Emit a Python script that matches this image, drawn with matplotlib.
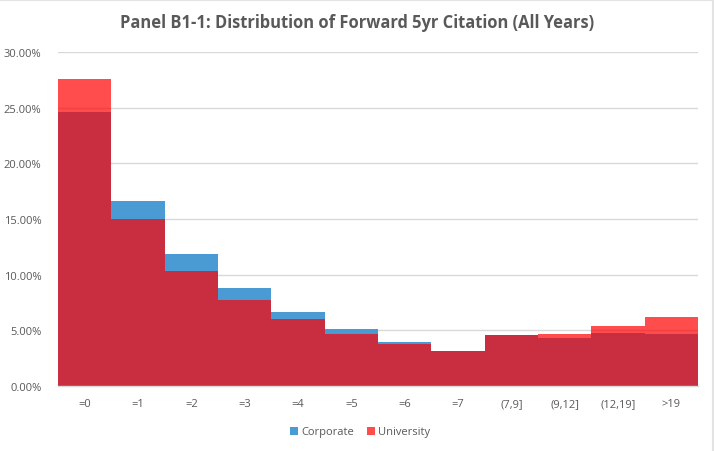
import matplotlib
matplotlib.use("Agg")
import matplotlib.pyplot as plt
from matplotlib.ticker import FuncFormatter, MultipleLocator
from matplotlib.lines import Line2D
import numpy as np

categories = ["=0", "=1", "=2", "=3", "=4", "=5", "=6", "=7", "(7,9]", "(9,12]", "(12,19]", ">19"]
corporate = [24.64, 16.59, 11.86, 8.78, 6.68, 5.09, 3.95, 3.12, 4.60, 4.31, 4.79, 4.67]
university = [27.55, 15.00, 10.36, 7.73, 6.02, 4.69, 3.77, 3.12, 4.62, 4.70, 5.36, 6.23]

title = "Panel B1-1: Distribution of Forward 5yr Citation (All Years)"
text_color = "#595959"
blue = "#4A9BD4"
red = "#FF0000"

plt.rcParams['font.family'] = ['Open Sans', 'DejaVu Sans']

fig = plt.figure(figsize=(7.14, 4.52), dpi=100)
ax = fig.add_axes([58/714, 65/452, 640/714, 334/452])

x = np.arange(len(categories))
ax.bar(x, corporate, width=1.0, color=blue, label="Corporate", zorder=2)
ax.bar(x, university, width=1.0, color=red, alpha=0.7, label="University", zorder=3)

ax.set_xlim(-0.5, len(categories) - 0.5)
ax.set_ylim(0, 30)
ax.yaxis.set_major_locator(MultipleLocator(5))
ax.yaxis.set_major_formatter(FuncFormatter(lambda v, p: f"{v:.2f}%"))
ax.set_xticks(x)
ax.set_xticklabels(categories)
ax.tick_params(axis='both', length=0, colors=text_color, labelsize=8)
ax.tick_params(axis='x', pad=9)
ax.tick_params(axis='y', pad=12)
ax.grid(axis='y', color="#D9D9D9", linewidth=1.0, zorder=0)
ax.set_axisbelow(True)
for s in ["top", "right", "left"]:
    ax.spines[s].set_visible(False)
ax.spines["bottom"].set_color("#D9D9D9")
ax.spines["bottom"].set_linewidth(1.0)
ax.spines["bottom"].set_zorder(4)

fig.text(357/714, 1 - 23/452, title, ha="center", va="center", fontsize=11.9,
         fontweight="bold", color=text_color)

leg = fig.legend(loc="center", bbox_to_anchor=(360/714, 1 - 433/452), ncol=2,
                 frameon=False, fontsize=8, handlelength=0.7, handleheight=0.7,
                 handletextpad=0.3, columnspacing=1.2)
for t in leg.get_texts():
    t.set_color(text_color)

# faint chart border visible at top and right edges
fig.add_artist(Line2D([0, 1], [1 - 1/452, 1 - 1/452], transform=fig.transFigure,
                      color="#E3E3E3", linewidth=1.5))
fig.add_artist(Line2D([1 - 1.5/714, 1 - 1.5/714], [0, 1], transform=fig.transFigure,
                      color="#E3E3E3", linewidth=1.5))

fig.savefig("out.png", dpi=100)
